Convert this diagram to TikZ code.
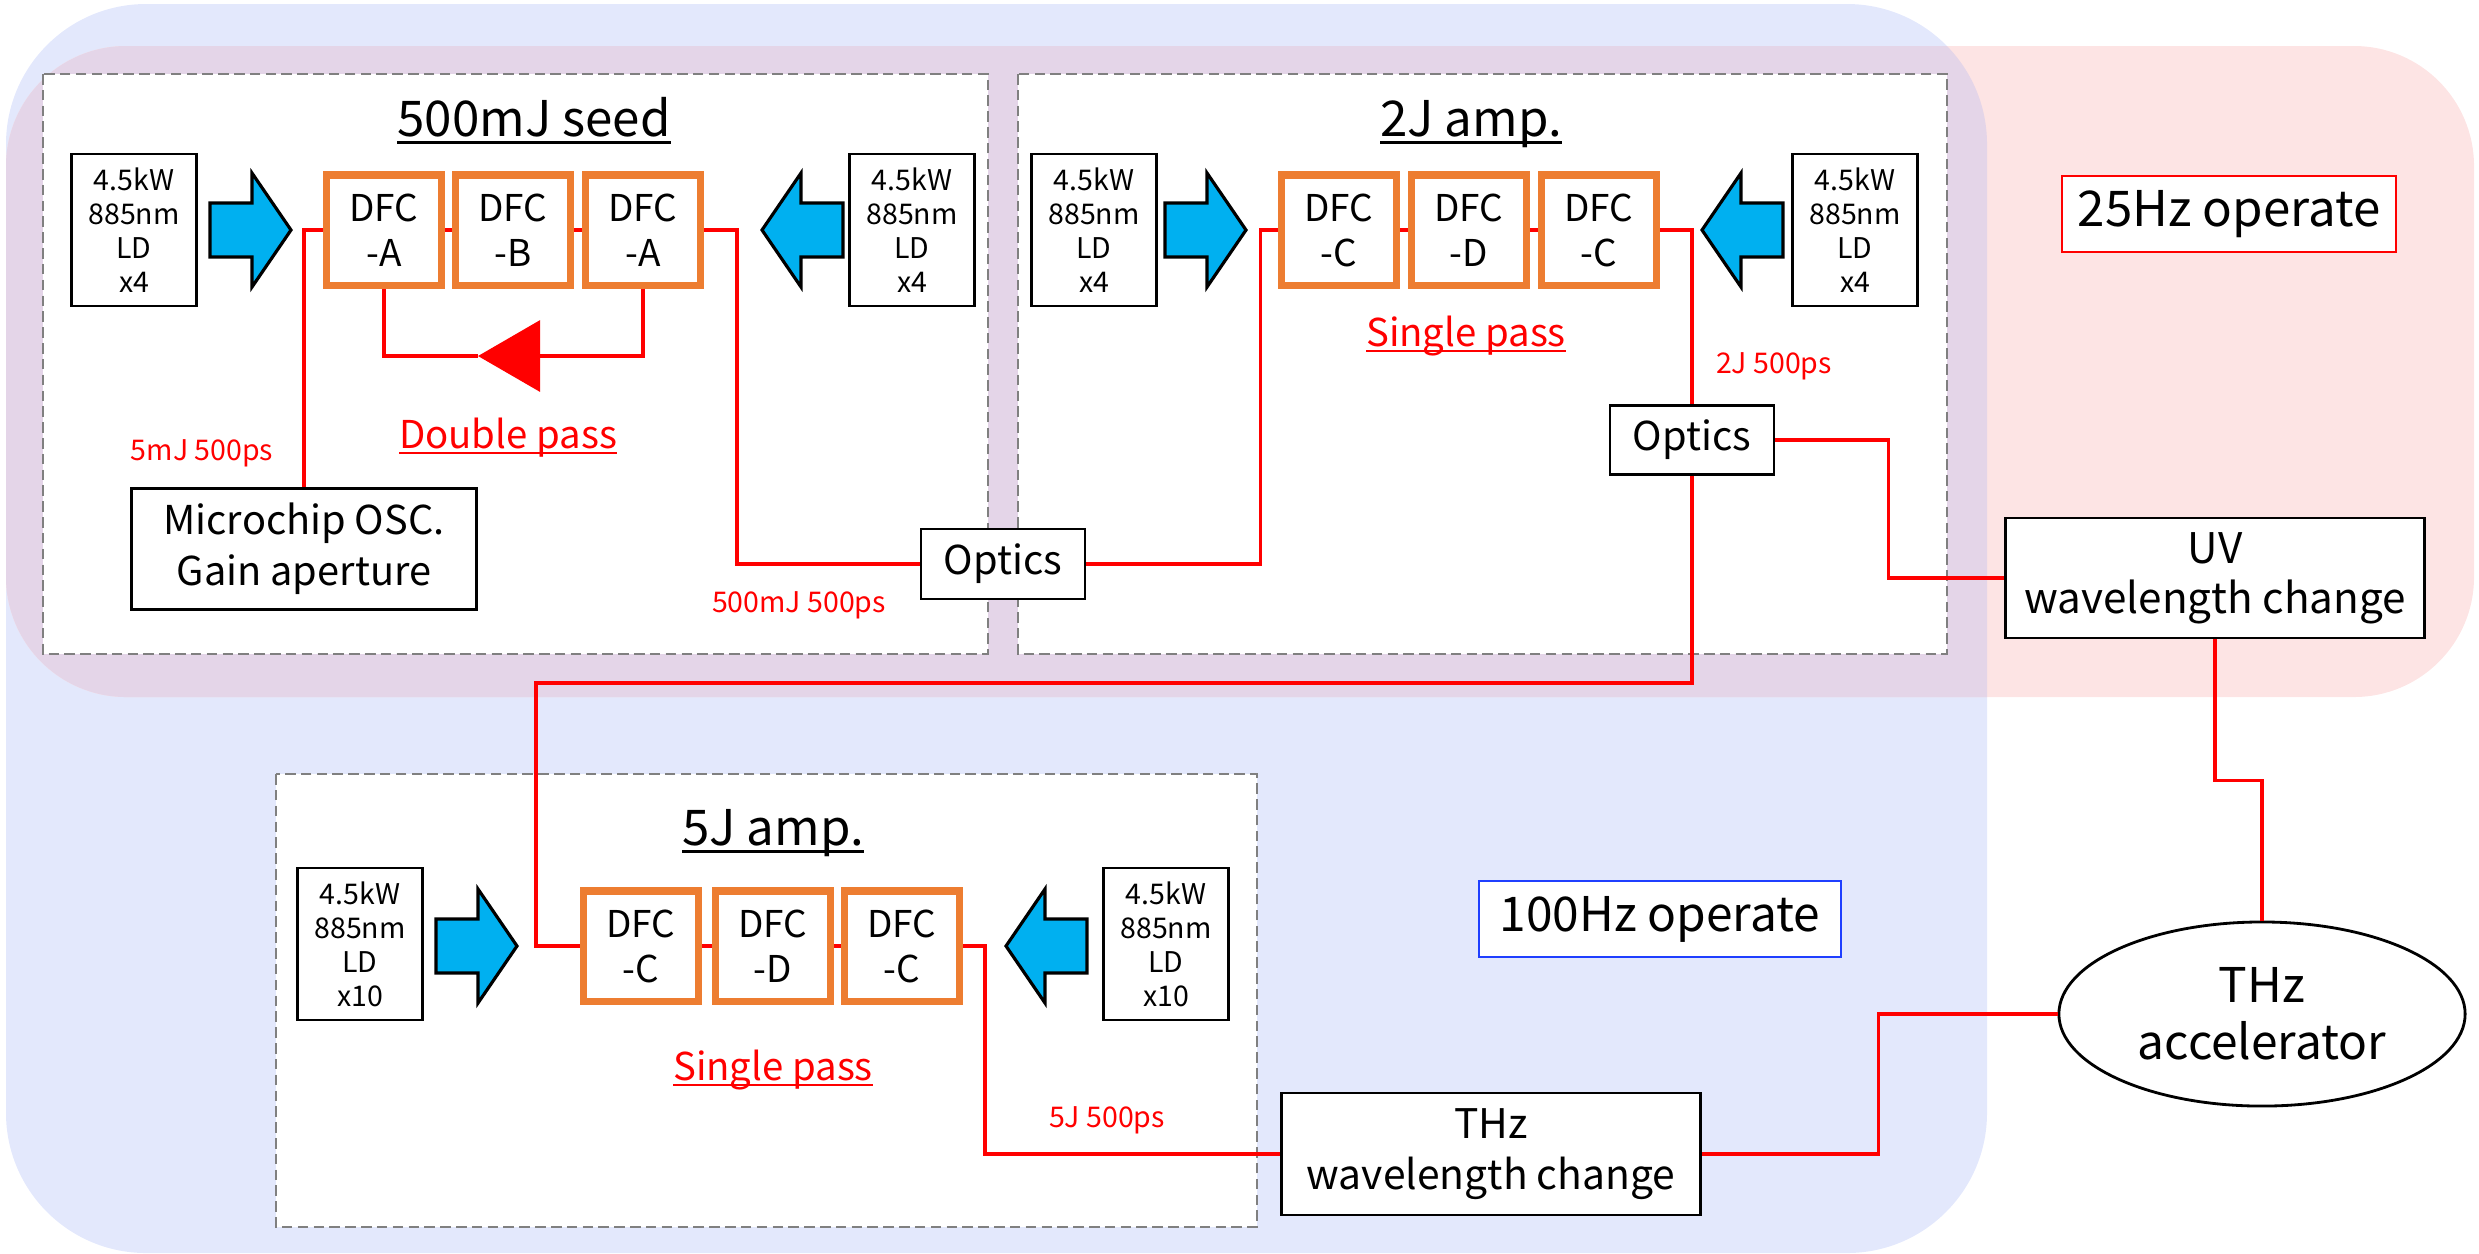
\documentclass[tikz,border=0pt]{standalone}
\usepackage{fontspec}
\setmainfont{Noto Sans CJK JP}
\usetikzlibrary{arrows.meta,shapes.geometric}

\definecolor{opblue}{HTML}{E3E8FC}
\definecolor{oppink}{HTML}{FDE4E4}
\definecolor{opboth}{HTML}{E4D5E8}
\definecolor{pumpcyan}{HTML}{00B0F0}
\definecolor{dfcorange}{HTML}{ED7D31}
\definecolor{hzblue}{HTML}{1F3FFF}

% pump arrow: tip x, tip y, direction (1 right, -1 left)
\newcommand{\pump}[3]{\draw[pump] (#1,#2) -- ++({-39*(#3)},-57) -- ++(0,30)
  -- ++({-42*(#3)},0) -- ++(0,54) -- ++({42*(#3)},0) -- ++(0,30) -- cycle;}
% underline close to the baseline
\newcommand{\lineunder}[1]{\setbox0=\hbox{#1}\rlap{\vrule height -0.1em depth 0.16em width \wd0}\box0}

\tikzset{
  stage/.style={draw=gray, fill=white, dash pattern=on 3pt off 1.5pt, line width=0.6pt},
  ld/.style={draw, line width=0.8pt, fill=white, minimum width=1.25cm, minimum height=1.52cm,
    inner sep=0pt, align=center, font=\fontsize{8.1}{9.7}\selectfont},
  dfc/.style={draw=dfcorange, line width=2pt, fill=white, minimum width=1.15cm, minimum height=1.10cm,
    inner sep=0pt, align=center, font=\fontsize{10.5}{12.8}\selectfont},
  title/.style={anchor=base, font=\fontsize{14}{16}\selectfont},
  box/.style={draw, line width=0.8pt, fill=white, inner sep=0pt, align=center},
  beam/.style={red, line width=0.9pt},
  note/.style={red, font=\fontsize{8.1}{10}\selectfont},
  passnote/.style={red, anchor=base, font=\fontsize{10.9}{13}\selectfont},
  pump/.style={draw, fill=pumpcyan, line width=0.9pt, line join=miter},
}

\begin{document}
\begin{tikzpicture}[x=0.01cm, y=-0.01cm]
  \useasboundingbox (0,0) rectangle (2479,1253);
  % operating areas
  \fill[opblue, rounded corners=1.4cm] (6,4) rectangle (1987,1253);
  \fill[oppink, rounded corners=1.2cm] (6,46) rectangle (2474,697);
  \begin{scope}
    \clip[rounded corners=1.4cm] (6,4) rectangle (1987,1253);
    \fill[opboth, rounded corners=1.2cm] (6,46) rectangle (2474,697);
  \end{scope}

  % stages
  \draw[stage] (43,74) rectangle (988,654);
  \draw[stage] (1018,74) rectangle (1947,654);
  \draw[stage] (276,774) rectangle (1257,1227);
  \node[title] (seed_title) at (534,136) {\lineunder{500mJ seed}};
  \node[title] (amp2_title) at (1471,136) {\lineunder{2J amp.}};
  \node[title] (amp5_title) at (773,845) {\lineunder{5J amp.}};

  % 500mJ seed
  \node[ld] (ld_seed_l) at (134,230) {4.5kW\\885nm\\LD\\x4};
  \node[ld] (ld_seed_r) at (912,230) {4.5kW\\885nm\\LD\\x4};
  \node[dfc] (dfc_seed_1) at (384,230) {DFC\\-A};
  \node[dfc] (dfc_seed_2) at (513,230) {DFC\\-B};
  \node[dfc] (dfc_seed_3) at (643,230) {DFC\\-A};
  \pump{291}{230}{1}
  \pump{762}{230}{-1}
  \node[box, minimum width=3.45cm, minimum height=1.21cm,
    font=\fontsize{11.3}{14.5}\selectfont] (osc) at (304,549) {Microchip OSC.\\Gain aperture};
  \node[box, minimum width=1.64cm, minimum height=0.70cm,
    font=\fontsize{11.3}{13}\selectfont] (optics_seed) at (1003,564) {Optics};
  \node[note] (e_seed_in) at (202,453) {5mJ 500ps};
  \node[passnote] (pass_seed) at (508,448) {\lineunder{Double pass}};
  \node[note] (e_seed_out) at (799,605) {500mJ 500ps};

  % 2J amp.
  \node[ld] (ld_amp2_l) at (1094,230) {4.5kW\\885nm\\LD\\x4};
  \node[ld] (ld_amp2_r) at (1855,230) {4.5kW\\885nm\\LD\\x4};
  \node[dfc] (dfc_amp2_1) at (1339,230) {DFC\\-C};
  \node[dfc] (dfc_amp2_2) at (1469,230) {DFC\\-D};
  \node[dfc] (dfc_amp2_3) at (1599,230) {DFC\\-C};
  \pump{1246}{230}{1}
  \pump{1702}{230}{-1}
  \node[box, minimum width=1.64cm, minimum height=0.69cm,
    font=\fontsize{11.3}{13}\selectfont] (optics_amp2) at (1692,440) {Optics};
  \node[passnote] (pass_amp2) at (1466,346) {\lineunder{Single pass}};
  \node[note] (e_amp2) at (1774,366) {2J 500ps};

  % 5J amp.
  \node[ld] (ld_amp5_l) at (360,944) {4.5kW\\885nm\\LD\\x10};
  \node[ld] (ld_amp5_r) at (1166,944) {4.5kW\\885nm\\LD\\x10};
  \node[dfc] (dfc_amp5_1) at (641,946) {DFC\\-C};
  \node[dfc] (dfc_amp5_2) at (773,946) {DFC\\-D};
  \node[dfc] (dfc_amp5_3) at (902,946) {DFC\\-C};
  \pump{517}{946}{1}
  \pump{1006}{946}{-1}
  \node[passnote] (pass_amp5) at (773,1080) {\lineunder{Single pass}};
  \node[note] (e_amp5) at (1107,1120) {5J 500ps};

  % outputs
  \node[box, draw=red, line width=0.6pt, minimum width=3.34cm, minimum height=0.76cm,
    font=\fontsize{14}{17}\selectfont] (rate25) at (2229,214) {25Hz operate};
  \node[box, draw=hzblue, line width=0.6pt, minimum width=3.61cm, minimum height=0.76cm,
    font=\fontsize{13.6}{16}\selectfont] (rate100) at (1660,919) {100Hz operate};
  \node[box, minimum width=4.19cm, minimum height=1.20cm,
    font=\fontsize{12}{14.2}\selectfont] (uv) at (2215,578) {UV\\wavelength change};
  \node[box, minimum width=4.19cm, minimum height=1.22cm,
    font=\fontsize{11.6}{14.5}\selectfont] (thz) at (1491,1154) {THz\\wavelength change};
  \node[box, ellipse, minimum width=4.06cm, minimum height=1.84cm,
    font=\fontsize{13.6}{16.2}\selectfont] (acc) at (2262,1014) {THz\\accelerator};

  % beam paths
  \draw[beam] (osc.north) |- (dfc_seed_1.west);
  \draw[beam] (dfc_seed_1.east) -- (dfc_seed_2.west);
  \draw[beam] (dfc_seed_2.east) -- (dfc_seed_3.west);
  \coordinate (dp_tip) at (478,356);
  \draw[beam, -{Triangle[length=0.62cm, width=0.71cm]}] (dfc_seed_3.south) |- (dp_tip);
  \draw[beam] (dp_tip) -| (dfc_seed_1.south);
  \draw[beam] (dfc_seed_3.east) -- ++(33,0) |- (optics_seed.west);
  \draw[beam] (optics_seed.east) -- ++(174,0) |- (dfc_amp2_1.west);
  \draw[beam] (dfc_amp2_1.east) -- (dfc_amp2_2.west);
  \draw[beam] (dfc_amp2_2.east) -- (dfc_amp2_3.west);
  \draw[beam] (dfc_amp2_3.east) -| (optics_amp2.north);
  \draw[beam] (optics_amp2.east) -- ++(113,0) |- (uv.west);
  \coordinate (drop) at (536,683);
  \draw[beam] (optics_amp2.south) |- (drop) |- (dfc_amp5_1.west);
  \draw[beam] (dfc_amp5_1.east) -- (dfc_amp5_2.west);
  \draw[beam] (dfc_amp5_2.east) -- (dfc_amp5_3.west);
  \draw[beam] (dfc_amp5_3.east) -- ++(22,0) |- (thz.west);
  \draw[beam] (uv.south) -- ++(0,141) -| (acc.north);
  \draw[beam] (acc.west) -- ++(-179,0) |- (thz.east);
\end{tikzpicture}
\end{document}
